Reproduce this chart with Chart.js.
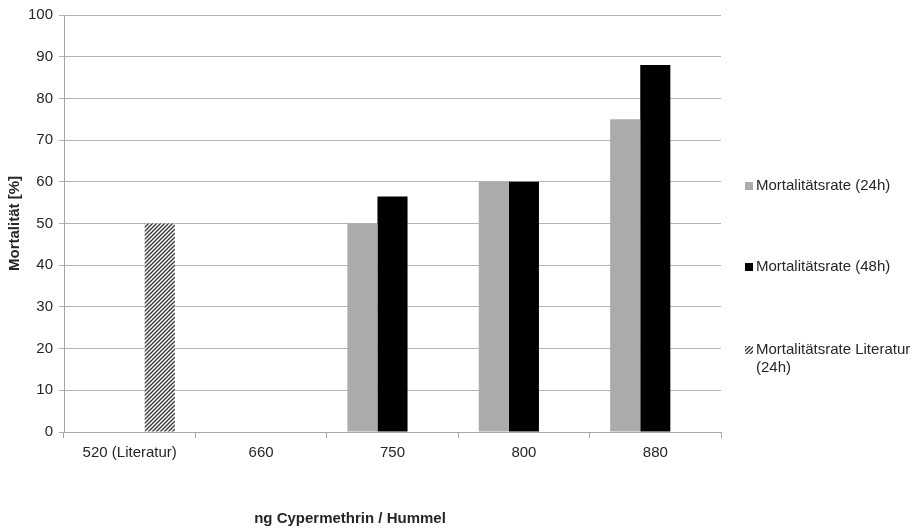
<!DOCTYPE html>
<html lang="de">
<head>
<meta charset="UTF-8">
<title>Mortalität Cypermethrin</title>
<style>
    body { margin: 0; padding: 0; background: #fff; }
    #wrap { width: 919px; height: 529px; position: relative; }
</style>
</head>
<body>
<div id="wrap"><canvas id="mortChart"></canvas></div>

<script src="https://cdn.jsdelivr.net/npm/chart.js"></script>
<script>
    // data
    const categories = ['520 (Literatur)', '660', '750', '800', '880'];
    const rate24h = [null, null, 50, 60, 75];
    const rate48h = [null, null, 56.5, 60, 88];
    const rateLit24h = [50, null, null, null, null];
    const seriesNames = ['Mortalitätsrate (24h)', 'Mortalitätsrate (48h)', ['Mortalitätsrate Literatur', '(24h)']];
    const yTicks = [0, 10, 20, 30, 40, 50, 60, 70, 80, 90, 100];

    const FONT = '"Liberation Sans", Arial, sans-serif';
    const TXT = '#262626';

    // diagonal hatch for the literature bar
    function makeHatch() {
        const c = document.createElement('canvas');
        c.width = 4; c.height = 4;
        const g = c.getContext('2d');
        g.fillStyle = '#fff';
        g.fillRect(0, 0, 4, 4);
        g.strokeStyle = '#333';
        g.lineWidth = 1.3;
        g.beginPath();
        g.moveTo(-1, 5); g.lineTo(5, -1);
        g.moveTo(-1, 1); g.lineTo(1, -1);
        g.moveTo(3, 5); g.lineTo(5, 3);
        g.stroke();
        return g.createPattern(c, 'repeat');
    }
    const hatch = makeHatch();

    // legend + x title drawn by hand (Excel style placement)
    const sideLegend = {
        id: 'sideLegend',
        afterDraw(chart) {
            const ctx = chart.ctx;
            const rows = [186, 267, 350];
            ctx.save();
            ctx.font = '15px ' + FONT;
            ctx.textBaseline = 'middle';
            ctx.textAlign = 'left';
            chart.data.datasets.forEach((ds, i) => {
                const y = rows[i];
                ctx.fillStyle = ds.backgroundColor;
                ctx.fillRect(745, y - 4, 8, 8);
                ctx.fillStyle = TXT;
                const lines = Array.isArray(seriesNames[i]) ? seriesNames[i] : [seriesNames[i]];
                lines.forEach((t, k) => ctx.fillText(t, 756, y + k * 18));
            });
            ctx.font = 'bold 15px ' + FONT;
            ctx.textAlign = 'center';
            ctx.fillStyle = TXT;
            ctx.fillText('ng Cypermethrin / Hummel', 350, 519);
            ctx.restore();
        }
    };

    const ctx = document.getElementById('mortChart').getContext('2d');
    new Chart(ctx, {
        type: 'bar',
        data: {
            labels: categories,
            datasets: [
                { label: 'Mortalitätsrate (24h)', data: rate24h, backgroundColor: '#ababab' },
                { label: 'Mortalitätsrate (48h)', data: rate48h, backgroundColor: '#000000' },
                { label: 'Mortalitätsrate Literatur (24h)', data: rateLit24h, backgroundColor: hatch }
            ]
        },
        options: {
            responsive: true,
            maintainAspectRatio: false,
            animation: false,
            layout: { padding: { top: 14, right: 198, left: 0, bottom: 0 } },
            datasets: { bar: { barPercentage: 1, categoryPercentage: 0.687, borderWidth: 0 } },
            plugins: {
                legend: { display: false },
                tooltip: { enabled: false }
            },
            scales: {
                x: {
                    offset: true,
                    grid: { offset: true, drawOnChartArea: false, drawTicks: true, tickLength: 6, color: '#a6a6a6' },
                    border: { color: '#a6a6a6' },
                    ticks: { color: TXT, padding: 6, font: { family: FONT, size: 15 } },
                    afterFit(scale) { scale.height = 97; }
                },
                y: {
                    min: 0,
                    max: 100,
                    afterBuildTicks(scale) { scale.ticks = yTicks.map(v => ({ value: v })); },
                    grid: { color: '#b3b3b3', tickLength: 5 },
                    border: { color: '#a6a6a6' },
                    ticks: { color: TXT, padding: 6, font: { family: FONT, size: 15 } },
                    title: {
                        display: true,
                        text: 'Mortalität [%]',
                        color: TXT,
                        font: { family: FONT, size: 15, weight: 'bold' },
                        padding: { top: 6, bottom: 0 }
                    },
                    afterFit(scale) { scale.width = 64; }
                }
            }
        },
        plugins: [sideLegend]
    });
</script>
</body>
</html>
